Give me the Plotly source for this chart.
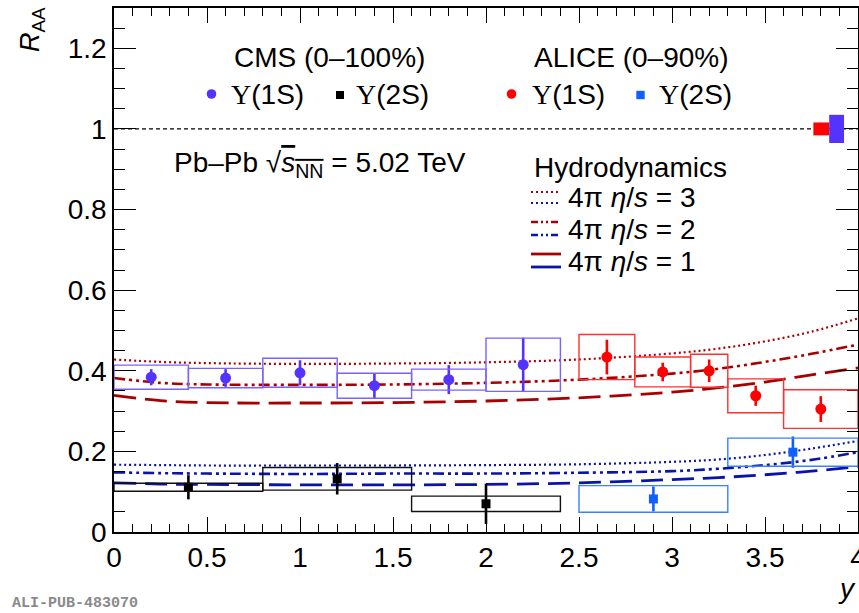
import plotly.graph_objects as go

# ---------------- data ----------------
# CMS Upsilon(1S), 0-100%
cms1s_y = [0.2, 0.6, 1.0, 1.4, 1.8, 2.2]
cms1s_raa = [0.384, 0.382, 0.395, 0.363, 0.378, 0.415]
cms1s_stat = [0.020, 0.022, 0.031, 0.031, 0.036, 0.067]
cms1s_syst = [0.030, 0.024, 0.036, 0.031, 0.026, 0.066]
cms1s_lo = [0.0, 0.4, 0.8, 1.2, 1.6, 2.0]
cms1s_hi = [0.4, 0.8, 1.2, 1.6, 2.0, 2.4]

# CMS Upsilon(2S)
cms2s_y = [0.4, 1.2, 2.0]
cms2s_raa = [0.111, 0.132, 0.070]
cms2s_stat = [0.030, 0.039, 0.050]
cms2s_syst = [0.010, 0.028, 0.019]
cms2s_lo = [0.0, 0.8, 1.6]
cms2s_hi = [0.8, 1.6, 2.4]

# ALICE Upsilon(1S), 0-90%
alice1s_y = [2.65, 2.95, 3.20, 3.45, 3.80]
alice1s_raa = [0.434, 0.397, 0.400, 0.338, 0.305]
alice1s_stat = [0.043, 0.023, 0.028, 0.025, 0.032]
alice1s_syst = [0.056, 0.037, 0.041, 0.042, 0.048]
alice1s_lo = [2.5, 2.8, 3.1, 3.3, 3.6]
alice1s_hi = [2.8, 3.1, 3.3, 3.6, 4.0]

# ALICE Upsilon(2S)
alice2s_y = [2.90, 3.65]
alice2s_raa = [0.082, 0.198]
alice2s_stat = [0.031, 0.039]
alice2s_syst = [0.033, 0.035]
alice2s_lo = [2.5, 3.3]
alice2s_hi = [3.3, 4.0]

# global normalisation uncertainties at R_AA = 1 (ALICE, CMS)
glob_lo = [3.76, 3.845]
glob_hi = [3.845, 3.925]
glob_unc = [0.016, 0.035]
ref_level = 1.0

# Hydrodynamics model curves
hydro_y = [0.0, 0.25, 0.5, 1.0, 1.5, 2.0, 2.5, 3.0, 3.25, 3.5, 3.75, 4.0]
hydro1s_eta3 = [0.428, 0.422, 0.419, 0.417, 0.418, 0.421, 0.428, 0.443, 0.455, 0.473, 0.497, 0.530]
hydro1s_eta2 = [0.382, 0.370, 0.366, 0.365, 0.366, 0.370, 0.378, 0.393, 0.405, 0.422, 0.442, 0.465]
hydro1s_eta1 = [0.339, 0.326, 0.321, 0.320, 0.321, 0.325, 0.333, 0.347, 0.358, 0.372, 0.390, 0.407]
hydro2s_eta3 = [0.167, 0.166, 0.165, 0.165, 0.165, 0.166, 0.168, 0.174, 0.180, 0.191, 0.207, 0.226]
hydro2s_eta2 = [0.148, 0.146, 0.145, 0.144, 0.145, 0.145, 0.147, 0.151, 0.157, 0.166, 0.179, 0.198]
hydro2s_eta1 = [0.122, 0.119, 0.118, 0.117, 0.117, 0.118, 0.122, 0.130, 0.135, 0.142, 0.151, 0.162]

# ---------------- styles ----------------
C_CMS1 = "#5533ff"
C_CMS1_BOX = "#7a62ff"
C_CMS2 = "#000000"
C_AL1 = "#ff0000"
C_AL1_BOX = "#ff3030"
C_AL2 = "#1060ff"
C_AL2_BOX = "#3a80ff"
C_RED = "#a80000"
C_BLUE = "#0a14a8"
FONT = "Liberation Sans, Arial, Helvetica, sans-serif"
FS = 28

DOT = "2px,3px"
DASHDOT = "11px,4px,3px,4px,3px,4px"
LONGDASH = "22px,9px"

L, R, T, B = 114, 858, 8, 532
W, H = 859, 613


def px(x):
    return (x - L) / (R - L)


def py(y):
    return (B - y) / (B - T)


fig = go.Figure()

# systematic boxes
def add_boxes(lo, hi, val, syst, color):
    for a, b, v, s in zip(lo, hi, val, syst):
        fig.add_shape(type="rect", xref="x", yref="y", x0=a, x1=b, y0=v - s, y1=v + s,
                      line=dict(color=color, width=1.4), fillcolor="rgba(0,0,0,0)", layer="above")


add_boxes(cms1s_lo, cms1s_hi, cms1s_raa, cms1s_syst, C_CMS1_BOX)
add_boxes(cms2s_lo, cms2s_hi, cms2s_raa, cms2s_syst, "#111111")
add_boxes(alice1s_lo, alice1s_hi, alice1s_raa, alice1s_syst, C_AL1_BOX)
add_boxes(alice2s_lo, alice2s_hi, alice2s_raa, alice2s_syst, C_AL2_BOX)

# global boxes
for a, b, u, c in zip(glob_lo, glob_hi, glob_unc, [C_AL1, C_CMS1]):
    fig.add_shape(type="rect", xref="x", yref="y", x0=a, x1=b, y0=ref_level - u, y1=ref_level + u,
                  line=dict(width=0), fillcolor=c, layer="above")

# reference line
fig.add_trace(go.Scatter(x=[0, 4], y=[ref_level, ref_level], mode="lines",
                         line=dict(color="black", width=1.2, dash="4px,3px"), hoverinfo="skip"))

# model curves
for ys, col, dash, w in [
    (hydro1s_eta3, C_RED, DOT, 2.2), (hydro1s_eta2, C_RED, DASHDOT, 2.6), (hydro1s_eta1, C_RED, LONGDASH, 2.8),
    (hydro2s_eta3, C_BLUE, DOT, 2.2), (hydro2s_eta2, C_BLUE, DASHDOT, 2.6), (hydro2s_eta1, C_BLUE, LONGDASH, 2.8),
]:
    fig.add_trace(go.Scatter(x=hydro_y, y=ys, mode="lines", line=dict(color=col, width=w, dash=dash, shape="spline"),
                             hoverinfo="skip"))

# data points
def add_points(x, yv, err, color, symbol, size):
    fig.add_trace(go.Scatter(x=x, y=yv, mode="markers",
                             marker=dict(color=color, symbol=symbol, size=size, line=dict(width=0)),
                             error_y=dict(type="data", array=err, color=color, thickness=2.6, width=0)))


add_points(cms1s_y, cms1s_raa, cms1s_stat, C_CMS1, "circle", 11)
add_points(cms2s_y, cms2s_raa, cms2s_stat, C_CMS2, "square", 9)
add_points(alice1s_y, alice1s_raa, alice1s_stat, C_AL1, "circle", 11)
add_points(alice2s_y, alice2s_raa, alice2s_stat, C_AL2, "square", 9)

# ---------------- legend / labels ----------------
ann = []


def text(x, y, s, size=FS, xanchor="left", yanchor="middle", color="black", family=FONT, angle=0):
    ann.append(dict(x=px(x), y=py(y), xref="paper", yref="paper", text=s, showarrow=False,
                    xanchor=xanchor, yanchor=yanchor, textangle=angle,
                    font=dict(size=size, color=color, family=family)))


UPS = "<span style='font-family:\"Liberation Serif\", \"DejaVu Serif\", serif'>Υ</span>"

text(232, 57, "CMS (0–100%)")
text(229, 94, UPS + "(1S)")
text(354, 94, UPS + "(2S)")
text(532, 57, "ALICE (0–90%)")
text(530, 94, UPS + "(1S)")
text(657, 94, UPS + "(2S)")
text(172, 164, "Pb–Pb √<span style='text-decoration:overline'><i>s</i><sub>NN</sub></span> = 5.02 TeV")
text(532, 167, "Hydrodynamics")
text(566, 197, "4π <i>η</i>/<i>s</i> = 3")
text(566, 229, "4π <i>η</i>/<i>s</i> = 2")
text(566, 261, "4π <i>η</i>/<i>s</i> = 1")
text(32, 30, "<i>R</i><sub>AA</sub>", size=27, xanchor="center", angle=-90)
text(847, 588, "<i>y</i>", size=28, xanchor="center")
text(10, 603, "<b>ALI-PUB-483070</b>", size=15, color="#8a8a8a", family="Liberation Mono, Courier New, monospace")

shapes = []


def circ(cx, cy, r, color):
    shapes.append(dict(type="circle", xref="paper", yref="paper",
                       x0=px(cx - r), x1=px(cx + r), y0=py(cy + r), y1=py(cy - r),
                       fillcolor=color, line=dict(width=0)))


def sq(cx, cy, h, color):
    shapes.append(dict(type="rect", xref="paper", yref="paper",
                       x0=px(cx - h), x1=px(cx + h), y0=py(cy + h), y1=py(cy - h),
                       fillcolor=color, line=dict(width=0)))


def seg(yv, color, dash, w):
    shapes.append(dict(type="line", xref="paper", yref="paper", x0=px(531), x1=px(561), y0=py(yv), y1=py(yv),
                       line=dict(color=color, width=w, dash=dash)))


circ(211.5, 94, 4.8, C_CMS1)
sq(340, 95, 4, C_CMS2)
circ(511.5, 94, 4.8, C_AL1)
sq(640.5, 95, 4.2, C_AL2)
seg(192, C_RED, DOT, 2)
seg(203, C_BLUE, DOT, 2)
seg(222, C_RED, "7px,3px,2px,3px,2px,3px", 2.4)
seg(235, C_BLUE, "7px,3px,2px,3px,2px,3px", 2.4)
seg(254, C_RED, "solid", 2.8)
seg(267, C_BLUE, "solid", 2.8)

for s in shapes:
    fig.add_shape(**s)

fig.update_layout(
    width=W, height=H, margin=dict(l=L, r=W - R, t=T, b=H - B, autoexpand=False),
    plot_bgcolor="white", paper_bgcolor="white", showlegend=False,
    font=dict(family=FONT, size=FS, color="black"),
    annotations=ann,
)
axis_common = dict(ticks="inside", mirror="allticks", showline=True, linecolor="black", linewidth=1.5,
                   tickcolor="black", tickwidth=1.3, showgrid=False, zeroline=False,
                   ticklabeloverflow="allow", automargin=False,
                   tickfont=dict(size=FS, family=FONT, color="black"))
fig.update_xaxes(range=[0, 4], tick0=0, dtick=0.5, ticklen=15,
                 minor=dict(ticks="inside", ticklen=8, tick0=0, dtick=0.1, tickcolor="black", tickwidth=1.2, showgrid=False),
                 **axis_common)
fig.update_yaxes(range=[0, 1.3], tick0=0, dtick=0.2, ticklen=22,
                 minor=dict(ticks="inside", ticklen=11, tick0=0, dtick=0.05, tickcolor="black", tickwidth=1.2, showgrid=False),
                 **axis_common)

fig.write_html("out.html")
